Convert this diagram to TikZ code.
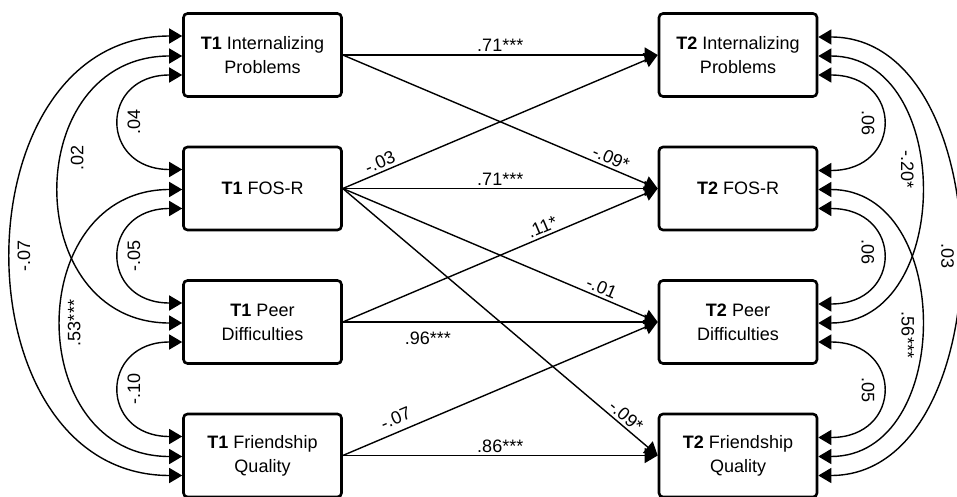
\documentclass[tikz,border=0pt]{standalone}
\usepackage{fontspec}
\setmainfont{Liberation Sans}
\usetikzlibrary{arrows.meta}
\begin{document}
\begin{tikzpicture}[x=1pt,y=-1pt,
  box/.style={draw, line width=2.6pt, rounded corners=4pt, minimum width=158pt, minimum height=83pt, align=center, font=\fontsize{18}{24}\selectfont, inner sep=0pt},
  con/.style={line width=1.4pt, -{Triangle[length=13pt,width=15pt]}},
  cov/.style={line width=1.4pt, {Triangle[length=13pt,width=15pt]}-{Triangle[length=13pt,width=15pt]}},
  lab/.style={font=\fontsize{18}{20}\selectfont, inner sep=2.5pt},
  llab/.style={font=\fontsize{18}{20}\selectfont, rotate=90, anchor=north, inner sep=7pt},
  rlab/.style={font=\fontsize{18}{20}\selectfont, rotate=-90, anchor=north, inner sep=7pt},
]
\useasboundingbox (0,0) rectangle (957,497);

\node[box] (a1) at (262.5,55) {\textbf{T1} Internalizing\\Problems};
\node[box] (a2) at (262.5,188.5) {\textbf{T1} FOS-R};
\node[box] (a3) at (262.5,322) {\textbf{T1} Peer\\Difficulties};
\node[box] (a4) at (262.5,455.5) {\textbf{T1} Friendship\\Quality};
\node[box] (b1) at (738,55) {\textbf{T2} Internalizing\\Problems};
\node[box] (b2) at (738,188.5) {\textbf{T2} FOS-R};
\node[box] (b3) at (738,322) {\textbf{T2} Peer\\Difficulties};
\node[box] (b4) at (738,455.5) {\textbf{T2} Friendship\\Quality};

\foreach \n in {a1,a2,a3,a4} {
  \coordinate (\n u) at ([yshift=19pt]\n.west);
  \coordinate (\n m) at ([yshift=-1pt]\n.west);
  \coordinate (\n d) at ([yshift=-20pt]\n.west);
}
\foreach \n in {b1,b2,b3,b4} {
  \coordinate (\n u) at ([yshift=18pt]\n.east);
  \coordinate (\n m) at ([yshift=-1pt]\n.east);
  \coordinate (\n d) at ([yshift=-20pt]\n.east);
}

% left covariances
\draw[cov] (a1d) .. controls +(-83,0) and +(-83,0) .. (a2u) node[llab, pos=0.5] {.04};
\draw[cov] (a1m) .. controls +(-163,0) and +(-163,0) .. (a3m) node[llab, pos=0.42] {.02};
\draw[cov] (a1u) .. controls +(-227,0) and +(-227,0) .. (a4d) node[llab, pos=0.5, inner sep=5pt] {-.07};
\draw[cov] (a2d) .. controls +(-83,0) and +(-83,0) .. (a3u) node[llab, pos=0.5] {-.05};
\draw[cov] (a2m) .. controls +(-160,0) and +(-160,0) .. (a4m) node[llab, pos=0.5, inner sep=5pt] {.53***};
\draw[cov] (a3d) .. controls +(-83,0) and +(-83,0) .. (a4u) node[llab, pos=0.5] {-.10};

% right covariances
\draw[cov] (b1d) .. controls +(85,0) and +(85,0) .. (b2u) node[rlab, pos=0.5] {.06};
\draw[cov] (b1m) .. controls +(136,0) and +(136,0) .. (b3m) node[rlab, pos=0.45, inner sep=5pt] {-.20*};
\draw[cov] (b1u) .. controls +(187,0) and +(187,0) .. (b4d) node[rlab, pos=0.5, inner sep=4pt] {.03};
\draw[cov] (b2d) .. controls +(85,0) and +(85,0) .. (b3u) node[rlab, pos=0.47] {.06};
\draw[cov] (b2m) .. controls +(136,0) and +(136,0) .. (b4m) node[rlab, pos=0.53, inner sep=5pt] {.56***};
\draw[cov] (b3d) .. controls +(85,0) and +(85,0) .. (b4u) node[rlab, pos=0.5] {.05};

% regressions
\draw[con] (a1.east) -- (b1.west) node[lab, pos=0.5, above] {.71***};
\draw[con] (a1.east) -- (b2.west) node[lab, pos=0.84, sloped, above] {-.09*};
\draw[con] (a2.east) -- (b1.west) node[lab, pos=0.13, sloped, above] {-.03};
\draw[con] (a2.east) -- (b2.west) node[lab, pos=0.5, above] {.71***};
\draw[con] (a2.east) -- (b3.west) node[lab, pos=0.81, sloped, above] {-.01};
\draw[con] (a2.east) -- (b4.west) node[lab, pos=0.88, sloped, above] {-.09*};
\draw[con] (a3.east) -- (b2.west) node[lab, pos=0.645, sloped, above] {.11*};
\draw[con] (a3.east) -- (b3.west) node[lab, pos=0.27, below=7pt] {.96***};
\draw[con] (a4.east) -- (b3.west) node[lab, pos=0.185, sloped, above=4pt] {-.07};
\draw[con] (a4.east) -- (b4.west) node[lab, pos=0.5, above] {.86***};
\end{tikzpicture}
\end{document}
